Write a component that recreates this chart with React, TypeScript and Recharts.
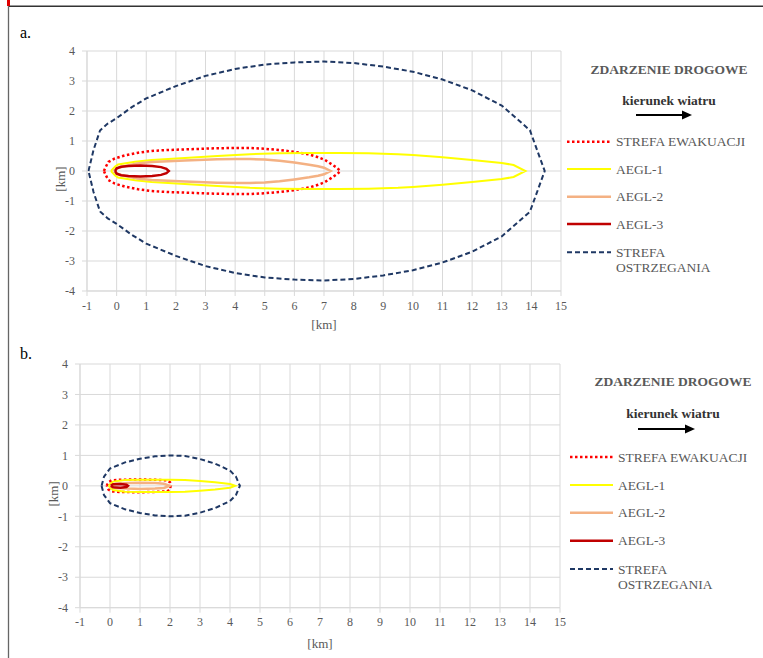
import { LineChart, Line, XAxis, YAxis, CartesianGrid, Label } from 'recharts';

type P = [number, number];

const SERIF = '"Liberation Serif", "Times New Roman", serif';
const GRAY = '#595959';
const GRID = '#D9D9D9';

const X_TICKS = [-1, 0, 1, 2, 3, 4, 5, 6, 7, 8, 9, 10, 11, 12, 13, 14, 15];
const Y_TICKS = [-4, -3, -2, -1, 0, 1, 2, 3, 4];

// panel a – contours, walked round as closed loops [x km, y km]
const EVAC_A: P[] = [
  [-0.43, 0], [-0.36, 0.15], [-0.28, 0.3], [-0.06, 0.42], [0.28, 0.52], [0.73, 0.61], [1.18, 0.67],
  [1.74, 0.7], [2.3, 0.72], [3.4, 0.76], [4.5, 0.77], [5, 0.74], [5.5, 0.7], [6, 0.64], [6.5, 0.55],
  [6.8, 0.46], [7.03, 0.37], [7.25, 0.23], [7.45, 0.1], [7.55, 0],
  [7.45, -0.1], [7.25, -0.23], [7.03, -0.37], [6.8, -0.46], [6.5, -0.55], [6, -0.64], [5.5, -0.7],
  [5, -0.74], [4.5, -0.77], [3.4, -0.76], [2.3, -0.72], [1.74, -0.7], [1.18, -0.67], [0.73, -0.61],
  [0.28, -0.52], [-0.06, -0.42], [-0.28, -0.3], [-0.36, -0.15], [-0.43, 0],
];
const AEGL1_A: P[] = [
  [-0.19, 0], [-0.05, 0.15], [0.05, 0.22], [0.62, 0.31], [1.18, 0.37], [2.3, 0.43], [3.4, 0.5],
  [4.5, 0.56], [5.5, 0.59], [6.5, 0.6], [7.5, 0.6], [8.5, 0.59], [9.5, 0.56], [10, 0.53], [11, 0.46],
  [12, 0.37], [13, 0.27], [13.4, 0.2], [13.8, 0],
  [13.4, -0.2], [13, -0.27], [12, -0.37], [11, -0.46], [10, -0.53], [9.5, -0.56], [8.5, -0.59],
  [7.5, -0.6], [6.5, -0.6], [5.5, -0.59], [4.5, -0.56], [3.4, -0.5], [2.3, -0.43], [1.18, -0.37],
  [0.62, -0.31], [0.05, -0.22], [-0.05, -0.15], [-0.19, 0],
];
const AEGL2_A: P[] = [
  [-0.11, 0], [0.05, 0.1], [0.3, 0.17], [0.7, 0.25], [1.18, 0.3], [2.3, 0.35], [3.4, 0.39], [4, 0.4],
  [4.5, 0.4], [5, 0.38], [5.5, 0.34], [6, 0.28], [6.5, 0.21], [6.8, 0.16], [7, 0.11], [7.22, 0],
  [7, -0.11], [6.8, -0.16], [6.5, -0.21], [6, -0.28], [5.5, -0.34], [5, -0.38], [4.5, -0.4], [4, -0.4],
  [3.4, -0.39], [2.3, -0.35], [1.18, -0.3], [0.7, -0.25], [0.3, -0.17], [0.05, -0.1], [-0.11, 0],
];
const AEGL3_A: P[] = [
  [-0.05, 0], [0, 0.09], [0.15, 0.14], [0.4, 0.17], [0.8, 0.18], [1.2, 0.17], [1.5, 0.13], [1.68, 0.07],
  [1.76, 0], [1.68, -0.07], [1.5, -0.13], [1.2, -0.17], [0.8, -0.18], [0.4, -0.17], [0.15, -0.14],
  [0, -0.09], [-0.05, 0],
];
const WARN_A: P[] = [
  [-0.95, 0], [-0.78, 0.7], [-0.56, 1.35], [-0.3, 1.58], [0, 1.76], [0.5, 2.12], [1, 2.42], [2, 2.83],
  [3, 3.17], [4, 3.4], [5, 3.55], [6, 3.62], [7, 3.65], [8, 3.6], [9, 3.48], [10, 3.31], [11, 3.05],
  [12, 2.69], [13, 2.18], [13.95, 1.36], [14.45, 0],
  [13.95, -1.36], [13, -2.18], [12, -2.69], [11, -3.05], [10, -3.31], [9, -3.48], [8, -3.6], [7, -3.65],
  [6, -3.62], [5, -3.55], [4, -3.4], [3, -3.17], [2, -2.83], [1, -2.42], [0.5, -2.12], [0, -1.76],
  [-0.3, -1.58], [-0.56, -1.35], [-0.78, -0.7], [-0.95, 0],
];

// panel b
const EVAC_B: P[] = [
  [-0.11, 0], [-0.05, 0.12], [0.05, 0.18], [0.3, 0.2], [1, 0.21], [1.5, 0.2], [1.9, 0.18], [2, 0.12],
  [2.02, 0], [2, -0.12], [1.9, -0.18], [1.5, -0.2], [1, -0.21], [0.3, -0.2], [0.05, -0.18],
  [-0.05, -0.12], [-0.11, 0],
];
const AEGL1_B: P[] = [
  [-0.05, 0], [0.1, 0.14], [0.5, 0.19], [1, 0.2], [2, 0.2], [2.5, 0.19], [3, 0.16], [3.5, 0.12],
  [4, 0.06], [4.17, 0], [4, -0.06], [3.5, -0.12], [3, -0.16], [2.5, -0.19], [2, -0.2], [1, -0.2],
  [0.5, -0.19], [0.1, -0.14], [-0.05, 0],
];
const AEGL2_B: P[] = [
  [0, 0], [0.2, 0.07], [0.6, 0.09], [1, 0.1], [1.5, 0.09], [1.8, 0.07], [1.98, 0],
  [1.8, -0.07], [1.5, -0.09], [1, -0.1], [0.6, -0.09], [0.2, -0.07], [0, 0],
];
const AEGL3_B: P[] = [
  [0.03, 0], [0.1, 0.05], [0.35, 0.06], [0.55, 0.04], [0.6, 0], [0.55, -0.04], [0.35, -0.06],
  [0.1, -0.05], [0.03, 0],
];
const WARN_B: P[] = [
  [-0.28, 0], [-0.2, 0.3], [0, 0.57], [0.5, 0.77], [1, 0.89], [1.5, 0.97], [2, 1.0], [2.5, 0.98],
  [3, 0.88], [3.5, 0.73], [4, 0.5], [4.2, 0.3], [4.33, 0], [4.2, -0.3], [4, -0.5], [3.5, -0.73],
  [3, -0.88], [2.5, -0.98], [2, -1.0], [1.5, -0.97], [1, -0.89], [0.5, -0.77], [0, -0.57],
  [-0.2, -0.3], [-0.28, 0],
];

const SERIES = [
  { key: 'evac', name: 'STREFA EWAKUACJI', color: '#FF0000', width: 2.5, dash: '2.5 2.5' },
  { key: 'aegl1', name: 'AEGL-1', color: '#FFFF00', width: 2, dash: undefined },
  { key: 'aegl2', name: 'AEGL-2', color: '#F4B183', width: 2.5, dash: undefined },
  { key: 'aegl3', name: 'AEGL-3', color: '#C00000', width: 2.5, dash: undefined },
  { key: 'warn', name: 'STREFA OSTRZEGANIA', color: '#1F3864', width: 2, dash: '5 3' },
];

const PANELS = [
  {
    id: 'a', top: 0, height: 340,
    margin: { top: 51, right: 202, bottom: 19, left: 57 },
    xLabelDy: 38,
    data: { evac: EVAC_A, aegl1: AEGL1_A, aegl2: AEGL2_A, aegl3: AEGL3_A, warn: WARN_A } as Record<string, P[]>,
    legend: { titleX: 669, titleY: 69, windY: 100, arrow: [636, 692, 115], lineX: [567, 611], textX: 616, rows: [141.7, 169, 196.7, 224, 252.3] },
  },
  {
    id: 'b', top: 340, height: 318,
    margin: { top: 24, right: 203, bottom: 20.3, left: 50 },
    xLabelDy: 40,
    data: { evac: EVAC_B, aegl1: AEGL1_B, aegl2: AEGL2_B, aegl3: AEGL3_B, warn: WARN_B } as Record<string, P[]>,
    legend: { titleX: 673, titleY: 381.7, windY: 413.3, arrow: [638, 695, 429], lineX: [570, 613], textX: 618, rows: [457, 485, 512.7, 540.7, 569] },
  },
];

const textStyle = { fill: GRAY, fontSize: 12, fontFamily: SERIF };

function Panel({ cfg }: { cfg: (typeof PANELS)[number] }) {
  return (
    <div style={{ position: 'absolute', left: 0, top: cfg.top }}>
      <LineChart width={763} height={cfg.height} margin={cfg.margin}>
        <CartesianGrid stroke={GRID} strokeWidth={1} />
        <XAxis
          type="number" dataKey="x" domain={[-1, 15]} ticks={X_TICKS} interval={0} allowDataOverflow
          height={30} stroke={GRID} tick={textStyle} tickSize={5} tickMargin={5}
        >
          <Label
            content={({ viewBox }: any) => (
              <text x={viewBox.x + viewBox.width / 2} y={viewBox.y + cfg.xLabelDy} textAnchor="middle" {...textStyle} fontSize={13}>
                [km]
              </text>
            )}
          />
        </XAxis>
        <YAxis
          type="number" dataKey="y" domain={[-4, 4]} ticks={Y_TICKS} interval={0} allowDataOverflow
          width={30} stroke={GRID} tick={textStyle} tickSize={5} tickMargin={7}
        >
          <Label
            content={({ viewBox }: any) => {
              const cx = viewBox.x + viewBox.width - 26;
              const cy = viewBox.y + viewBox.height / 2 + 8;
              return (
                <text x={cx} y={cy + 4} transform={`rotate(-90 ${cx} ${cy})`} textAnchor="middle" {...textStyle} fontSize={13}>
                  [km]
                </text>
              );
            }}
          />
        </YAxis>
        {SERIES.map((s) => (
          <Line
            key={s.key}
            data={cfg.data[s.key].map(([x, y]) => ({ x, y }))}
            dataKey="y"
            type="linear"
            stroke={s.color}
            strokeWidth={s.width}
            strokeDasharray={s.dash}
            dot={false}
            activeDot={false}
            isAnimationActive={false}
          />
        ))}
      </LineChart>
    </div>
  );
}

function Legend({ cfg }: { cfg: (typeof PANELS)[number] }) {
  const L = cfg.legend;
  const [ax0, ax1, ay] = L.arrow;
  return (
    <g fontFamily={SERIF} fontSize={13.5} fill={GRAY}>
      <text x={L.titleX} y={L.titleY + 4.5} textAnchor="middle" fontWeight="bold">ZDARZENIE DROGOWE</text>
      <text x={L.titleX} y={L.windY + 4.5} textAnchor="middle" fontWeight="bold" fill="#333">kierunek wiatru</text>
      <line x1={ax0} y1={ay} x2={ax1 - 9} y2={ay} stroke="#000" strokeWidth={1.8} />
      <polygon points={`${ax1},${ay} ${ax1 - 10},${ay - 4.5} ${ax1 - 10},${ay + 4.5}`} fill="#000" />
      {SERIES.map((s, i) => {
        const y = L.rows[i];
        return (
          <g key={s.key}>
            <line x1={L.lineX[0]} y1={y} x2={L.lineX[1]} y2={y} stroke={s.color} strokeWidth={s.width} strokeDasharray={s.dash} />
            {s.key === 'warn' ? (
              <>
                <text x={L.textX} y={y + 4.5}>STREFA</text>
                <text x={L.textX} y={y + 19.5}>OSTRZEGANIA</text>
              </>
            ) : (
              <text x={L.textX} y={y + 4.5}>{s.name}</text>
            )}
          </g>
        );
      })}
    </g>
  );
}

export default function App() {
  return (
    <div style={{ position: 'absolute', left: 0, top: 0, width: 763, height: 658, background: '#fff', overflow: 'hidden' }}>
      {PANELS.map((p) => (
        <Panel key={p.id} cfg={p} />
      ))}
      <svg width={763} height={658} style={{ position: 'absolute', left: 0, top: 0, pointerEvents: 'none' }}>
        <line x1={8.5} y1={6.3} x2={763} y2={6.3} stroke="#333" strokeWidth={1.4} />
        <line x1={8.5} y1={6.3} x2={8.5} y2={658} stroke="#666" strokeWidth={1.3} />
        <rect x={7} y={0} width={3} height={6} fill="#E00000" />
        <text x={20} y={38} fontFamily={SERIF} fontSize={16} fill="#000">a.</text>
        <text x={20} y={359} fontFamily={SERIF} fontSize={16} fill="#000">b.</text>
        {PANELS.map((p) => (
          <Legend key={p.id} cfg={p} />
        ))}
      </svg>
    </div>
  );
}
